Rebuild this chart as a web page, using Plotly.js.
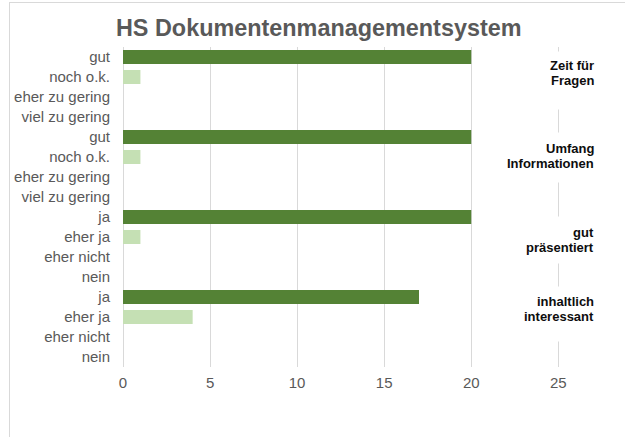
<!DOCTYPE html>
<html>
<head>
<meta charset="utf-8">
<script src="https://cdn.plot.ly/plotly-3.0.1.min.js"></script>
<style>
  body { margin: 0; background: #fff; }
  #chart { width: 625px; height: 437px; }
  #frame {
    position: absolute; left: 9px; top: 2px; width: 640px; height: 460px;
    border-left: 1.5px solid #d9d9d9; border-top: 1.5px solid #d9d9d9;
    pointer-events: none;
  }
</style>
</head>
<body>
<div id="chart"></div>
<div id="frame"></div>
<script>
// --- data ---
const groups = ['Zeit für<br>Fragen', 'Umfang<br>Informationen', 'gut<br>präsentiert', 'inhaltlich<br>interessant'];
const scaleGut = ['gut', 'noch o.k.', 'eher zu gering', 'viel zu gering'];
const scaleJa = ['ja', 'eher ja', 'eher nicht', 'nein'];
const answers = [scaleGut, scaleGut, scaleJa, scaleJa];
const counts = [
  [20, 1, 0, 0],
  [20, 1, 0, 0],
  [20, 1, 0, 0],
  [17, 4, 0, 0]
];
const xTicks = [0, 5, 10, 15, 20, 25];

// colour per answer rank (best answer dark green, the rest light green)
const rankColors = ['#548235', '#C5E0B4', '#C5E0B4', '#C5E0B4'];
// caption placement: text centre (rows from group start), label box shift / height in px
const captionOffset = [0.8, 0.95, 1.15, 0.6];
const boxShift = [-7.5, -1.5, 0, -5];
const boxHeight = [57, 49, 46, 54];

const rows = [], labels = [], values = [], colors = [];
answers.forEach((scale, g) => {
  scale.forEach((a, r) => {
    rows.push(rows.length);
    labels.push(a);
    values.push(counts[g][r]);
    colors.push(rankColors[r]);
  });
});

const font = 'Liberation Sans, Arial, sans-serif';

const trace = {
  type: 'bar',
  orientation: 'h',
  x: values,
  y: rows,
  marker: { color: colors },
  hoverinfo: 'none'
};

const annotations = [];
groups.forEach((g, i) => {
  const yc = i * 4 + captionOffset[i];
  // white box that interrupts the last gridline behind the caption
  annotations.push({
    text: ' ', xref: 'x', x: xTicks[xTicks.length - 1], xanchor: 'center',
    yref: 'y', y: yc, yanchor: 'middle', yshift: boxShift[i],
    width: 16, height: boxHeight[i], borderpad: 0,
    bgcolor: '#ffffff', showarrow: false
  });
  const lines = g.split('<br>');
  lines.forEach((line, k) => {
    annotations.push({
      text: line,
      xref: 'paper', x: 1.063, xanchor: 'right',
      yref: 'y', y: yc, yanchor: 'middle',
      yshift: ((lines.length - 1) / 2 - k) * 15.5,
      align: 'right', showarrow: false, borderpad: 0,
      font: { family: font, size: 13, color: '#0d0d0d', weight: 'bold' }
    });
  });
});

const layout = {
  width: 625,
  height: 437,
  paper_bgcolor: '#ffffff',
  plot_bgcolor: '#ffffff',
  margin: { l: 123, r: 58, t: 47, b: 70 },
  showlegend: false,
  bargap: 0.3,
  title: {
    text: '<b>HS Dokumentenmanagementsystem</b>',
    font: { family: font, size: 23.4, color: '#595959' },
    xref: 'container', x: 0.51, xanchor: 'center',
    yref: 'container', y: 1 - 28 / 437, yanchor: 'middle'
  },
  xaxis: {
    range: [0, 25.5],
    tickvals: xTicks,
    showgrid: true,
    gridcolor: '#d9d9d9',
    gridwidth: 1,
    zeroline: true,
    zerolinecolor: '#d9d9d9',
    zerolinewidth: 1,
    showline: false,
    ticks: '',
    ticklabelstandoff: 5,
    tickfont: { family: font, size: 15, color: '#595959' },
    fixedrange: true
  },
  yaxis: {
    range: [rows.length - 0.5, -0.5],
    tickvals: rows,
    ticktext: labels,
    showgrid: false,
    zeroline: false,
    showline: false,
    ticks: '',
    ticklabelstandoff: 12,
    tickfont: { family: font, size: 15, color: '#595959' },
    fixedrange: true
  },
  annotations: annotations
};

Plotly.newPlot('chart', [trace], layout, { displayModeBar: false, staticPlot: true });
</script>
</body>
</html>
